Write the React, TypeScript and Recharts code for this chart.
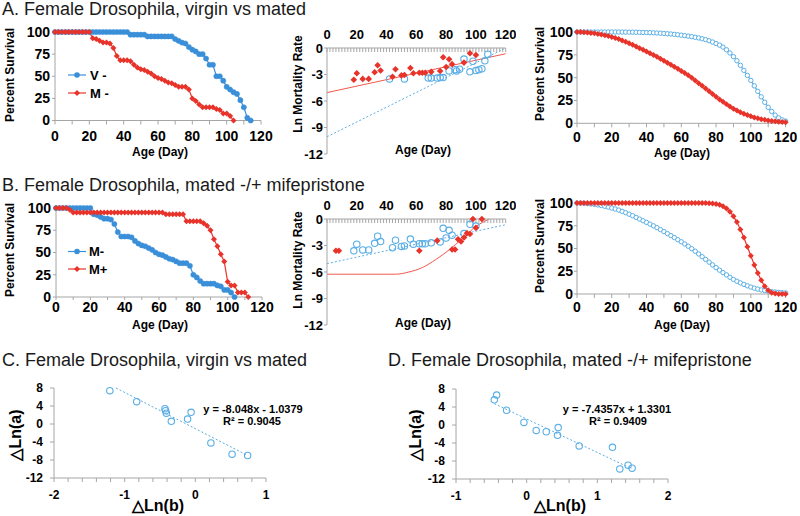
import React from 'react';
import { ComposedChart, Line, Scatter, XAxis, YAxis } from 'recharts';

const FONT = '"Liberation Sans", Arial, Helvetica, sans-serif';
const BLUE = '#3a8fd9';
const LBLUE = '#5aaee6';
const RED = '#e8332a';
const LRED = '#f0584a';
const AXIS = '#a6a6a6';

// ---------- tick lists ----------
const SURV_X_TICKS = [0, 10, 20, 30, 40, 50, 60, 70, 80, 90, 100, 110, 120];
const SURV_Y_TICKS = [0, 25, 50, 75, 100];
const MORT_Y_TICKS = [-12, -9, -6, -3, 0];
const DLN_Y_TICKS = [-12, -8, -4, 0, 4, 8];
const C_X_TICKS = [-2, -1.8, -1.6, -1.4, -1.2, -1, -0.8, -0.6, -0.4, -0.2, 0, 0.2, 0.4, 0.6, 0.8, 1];
const D_X_TICKS = [-1, -0.8, -0.6, -0.4, -0.2, 0, 0.2, 0.4, 0.6, 0.8, 1, 1.2, 1.4, 1.6, 1.8, 2];

// ---------- days (census every 2 days) ----------
const DAYS = [0, 2, 4, 6, 8, 10, 12, 14, 16, 18, 20, 22, 24, 26, 28, 30, 32, 34, 36, 38, 40, 42, 44, 46, 48, 50, 52, 54, 56, 58, 60, 62, 64, 66, 68, 70, 72, 74, 76, 78, 80, 82, 84, 86, 88, 90, 92, 94, 96, 98, 100, 102, 104, 106, 108, 110, 112, 114, 116, 118, 120];

// ---------- observed survival (%) ----------
const V_SURV = [100, 100, 100, 100, 100, 100, 100, 100, 100, 100, 100, 100, 100, 100, 100, 100, 100, 100, 100, 100, 100,
  100, 97, 97, 97, 97, 97, 95, 95, 95, 95, 95, 95, 95, 95, 92, 90, 88, 87, 83, 80, 78, 75, 75, 70, 63, 63, 50, 50, 45, 38, 35, 32, 30, 23, 15, 3, 0];
const M_SURV = [100, 100, 100, 100, 100, 100, 100, 100, 100, 100, 100,
  93, 92, 90, 88, 88, 87, 82, 73, 68, 68, 68, 67, 63, 60, 58, 57, 55, 53, 50, 48, 47, 45, 43, 42, 40, 38, 38, 38, 35, 25, 22, 18, 15, 15, 15, 15, 13, 12, 8, 8, 5, 0];
const MP_SURV = [100, 100, 100, 100, 98,
  95, 95, 95, 95, 95, 95, 95, 95, 95, 95, 95, 95, 95, 95, 95, 95, 95, 95, 95, 95, 95, 95, 95, 95, 95, 95, 95,
  93, 93, 93, 93, 93, 93, 85, 85, 85, 85, 85, 83, 80, 75, 65, 57, 48, 40, 17, 13, 13, 5, 5, 5, 0];

// ---------- fitted survival (%) ----------
const FIT_M = [100, 99.9, 99.7, 99.4, 99, 98.5, 97.9, 97.2, 96.4, 95.5, 94.5, 93.4, 92.2, 90.8, 89.3, 87.7, 86, 84.2, 82.3, 80.5,
  78.6, 76.8, 74.9, 72.9, 70.8, 68.6, 66.4, 64.2, 62, 59.7, 57.4, 55, 52.5, 49.8, 47, 44, 41, 38, 35, 32,
  29, 26.2, 23.5, 21, 18.4, 16, 14, 12.2, 10.5, 9, 7.6, 6.4, 5.4, 4.5, 3.8, 3.2, 2.6, 2.2, 1.8, 1.5, 1.2];
const FIT_V = [100, 100, 100, 100, 100, 100, 100, 100, 100, 100, 100, 100, 100, 99.9, 99.9, 99.8, 99.8, 99.7, 99.6, 99.5,
  99.4, 99.3, 99.1, 98.9, 98.7, 98.4, 98.1, 97.8, 97.4, 97, 96.5, 96, 95.5, 94.9, 94.2, 93.5, 92.6, 91.6, 90.4, 89,
  87.4, 85.6, 83.5, 80.5, 77, 73, 68.5, 63.5, 58, 52.5, 47, 41, 35, 29, 23, 17.5, 13, 9, 6, 3.8, 2.4];
const FIT_MP = [100, 100, 100, 100, 100, 100, 100, 100, 100, 100, 100, 100, 100, 100, 100, 100, 100, 100, 100, 100,
  100, 100, 100, 100, 100, 100, 100, 100, 100, 100, 100, 100, 100, 100, 100, 99.9, 99.9, 99.9, 99.8, 99.5,
  99, 98, 96.5, 94, 90.5, 85.5, 79, 71, 62, 52, 42, 32, 23, 15, 8.5, 4, 1.5, 0.5, 0.1, 0, 0];

// ---------- ln mortality ----------
const M_MORT_DAYS = [18, 20, 24, 28, 32, 34, 36, 44, 46, 50, 52, 56, 58, 62, 64, 66, 70, 76, 78, 80, 82, 84, 92, 96, 100];
const M_MORT = [-3.6, -2.85, -3.5, -3.5, -2.75, -1.95, -2.55, -3.25, -2.4, -3.1, -3.05, -2.27, -2.85, -2.8, -2.8, -2.8, -2.7, -2.6, -1.05, -2.15, -1.28, -1.83, -1.65, -0.6, -0.8];
const V_MORT_DAYS = [42, 52, 68, 70, 74, 76, 78, 82, 86, 87, 89, 92, 96, 98, 100, 102, 104, 106, 108];
const V_MORT = [-3.5, -3.5, -3.4, -3.4, -3.4, -3.35, -3.35, -2.6, -2.45, -2.6, -2.4, -1.25, -2.7, -1.5, -2.55, -2.45, -2.35, -1.45, -0.7];
const MP_MORT_DAYS = [6, 8, 62, 74, 84, 86, 88, 90, 92, 94, 96, 98, 100, 104];
const MP_MORT = [-3.6, -3.6, -3.6, -2.45, -3.45, -3.45, -2.3, -2.55, -2.1, -1.6, -1.7, 0, -1.0, 0];

// fitted ln mortality
const FITLN_M_DAYS = [0, 120];
const FITLN_M = [-5.05, -0.65];
const FITLN_V_DAYS = [0, 120];
const FITLN_V = [-10.05, 0];
const FITLN_MP_DAYS = [0, 46, 55, 64, 73, 82, 91, 100, 109];
const FITLN_MP = [-6.25, -6.25, -6.0, -5.5, -4.6, -3.5, -2.2, -0.85, 0];

// ---------- delta Ln ----------
const C_DLNB = [-1.21, -0.83, -0.43, -0.42, -0.41, -0.34, -0.11, -0.06, 0.22, 0.52, 0.74];
const C_DLNA = [7.4, 4.96, 3.4, 2.96, 2.4, 0.6, 1.1, 2.6, -4.2, -6.7, -7.0];
const C_TREND_X = [-1.123, 0.74];
const C_TREND_Y = [8, -6.99];
const D_DLNB = [-0.458, -0.425, -0.284, -0.039, 0.135, 0.277, 0.437, 0.446, 0.743, 1.214, 1.318, 1.435, 1.492];
const D_DLNA = [5.6, 6.65, 3.28, 0.58, -1.2, -1.5, -2.3, -0.58, -4.66, -4.96, -9.75, -8.93, -9.6];
const D_TREND_X = [-0.458, 1.492];
const D_TREND_Y = [4.74, -9.76];

const pts = (xs: number[], ys: number[]) => ys.map((y, i) => ({ x: xs[i], y }));

const tickFont14 = { fontSize: 14, fontWeight: 700, fill: '#000', fontFamily: FONT };
const tickFont13 = { fontSize: 13, fontWeight: 700, fill: '#000', fontFamily: FONT };
const tickFont12 = { fontSize: 12, fontWeight: 700, fill: '#000', fontFamily: FONT };
const fmt20 = (v: number) => (v % 20 === 0 ? String(v) : '');
const fmtInt = (v: number) => (Math.abs(v - Math.round(v)) < 1e-9 ? String(Math.round(v)) : '');

const dotBlue = (p: any) => <circle key={`b${p.index}`} cx={p.cx} cy={p.cy} r={2.6} fill={BLUE} stroke={BLUE} strokeWidth={0.5} />;
const dotRed = (p: any) => (
  <path key={`r${p.index}`} d={`M${p.cx},${p.cy - 3}L${p.cx + 3},${p.cy}L${p.cx},${p.cy + 3}L${p.cx - 3},${p.cy}Z`} fill={RED} />
);
const dotOpen = (p: any) => <circle key={`o${p.index}`} cx={p.cx} cy={p.cy} r={2.2} fill="#fff" stroke={LBLUE} strokeWidth={1} />;
const shapeOpen = (p: any) => <circle cx={p.cx} cy={p.cy} r={3.2} fill="none" stroke={LBLUE} strokeWidth={1.1} />;
const shapeRed = (p: any) => (
  <path d={`M${p.cx},${p.cy - 3.3}L${p.cx + 3.3},${p.cy}L${p.cx},${p.cy + 3.3}L${p.cx - 3.3},${p.cy}Z`} fill={RED} />
);

const axisProps = { axisLine: { stroke: AXIS }, tickLine: { stroke: AXIS } };

function SurvChart({ left, top, w, h, xMargin, xSize, yMargin, lines }: any) {
  return (
    <div style={{ position: 'absolute', left, top }}>
      <ComposedChart width={w} height={h} margin={{ top: 8, right: 12, bottom: 0, left: 0 }}>
        <XAxis type="number" dataKey="x" domain={[0, 120]} ticks={SURV_X_TICKS} tickFormatter={fmt20} interval={0}
          height={30} tickSize={xSize} tickMargin={xMargin} tick={tickFont14} {...axisProps} />
        <YAxis type="number" dataKey="y" domain={[0, 100]} ticks={SURV_Y_TICKS} interval={0}
          width={45} tickSize={3} tickMargin={yMargin} tick={tickFont14} {...axisProps} />
        {lines.map((l: any, i: number) => (
          <Line key={i} data={l.data} dataKey="y" stroke={l.stroke} strokeWidth={1.2} dot={l.dot} activeDot={false} isAnimationActive={false} />
        ))}
      </ComposedChart>
    </div>
  );
}

function MortChart({ left, top, tickMargin, fits, scatters }: any) {
  return (
    <div style={{ position: 'absolute', left, top }}>
      <ComposedChart width={228.7} height={148} margin={{ top: 5, right: 10, bottom: 12, left: 0 }}>
        <XAxis type="number" dataKey="x" orientation="top" domain={[0, 120]} ticks={DAYS} tickFormatter={fmt20} interval={0}
          height={25} tickSize={-4} tickMargin={tickMargin} tick={tickFont13} {...axisProps} />
        <YAxis type="number" dataKey="y" domain={[-12, 0]} ticks={MORT_Y_TICKS} interval={0}
          width={40} tickSize={3} tickMargin={1} tick={tickFont13} {...axisProps} />
        {fits.map((f: any, i: number) => (
          <Line key={`f${i}`} data={f.data} dataKey="y" type={f.type || 'linear'} stroke={f.stroke} strokeWidth={1}
            strokeDasharray={f.dash} dot={false} activeDot={false} isAnimationActive={false} />
        ))}
        {scatters.map((s: any, i: number) => (
          <Scatter key={`s${i}`} data={s.data} dataKey="y" shape={s.shape} isAnimationActive={false} />
        ))}
      </ComposedChart>
    </div>
  );
}

function DlnChart({ left, top, domain, ticks, data, trend }: any) {
  return (
    <div style={{ position: 'absolute', left, top }}>
      <ComposedChart width={262} height={123} margin={{ top: 8, right: 10, bottom: 0, left: 0 }}>
        <XAxis type="number" dataKey="x" domain={domain} ticks={ticks} tickFormatter={fmtInt} interval={0}
          height={25} tickSize={4} tickMargin={8} tick={tickFont12} {...axisProps} />
        <YAxis type="number" dataKey="y" domain={[-12, 8]} ticks={DLN_Y_TICKS} interval={0}
          width={40} tickSize={4} tickMargin={7} tick={tickFont12} {...axisProps} />
        <Line data={trend} dataKey="y" stroke={LBLUE} strokeWidth={1} strokeDasharray="2 2" dot={false} activeDot={false} isAnimationActive={false} />
        <Scatter data={data} dataKey="y" shape={shapeOpen} isAnimationActive={false} />
      </ComposedChart>
    </div>
  );
}

const T = (x: number, y: number, s: string, size = 12, extra: any = {}) => (
  <text x={x} y={y} fontFamily={FONT} fontSize={size} fontWeight={700} textAnchor="middle" dominantBaseline="central" fill="#000" {...extra}>{s}</text>
);
const VT = (x: number, y: number, s: string, size = 12) => (
  <text transform={`translate(${x},${y}) rotate(-90)`} fontFamily={FONT} fontSize={size} fontWeight={700} textAnchor="middle" dominantBaseline="central" fill="#000">{s}</text>
);
const Title = (x: number, y: number, s: string) => (
  <text x={x} y={y} fontFamily={FONT} fontSize={18} fill="#1a1a1a">{s}</text>
);

export default function App() {
  const aV = pts(DAYS, V_SURV);
  const aM = pts(DAYS, M_SURV);
  const bMP = pts(DAYS, MP_SURV);
  const fM = pts(DAYS, FIT_M);
  const fV = pts(DAYS, FIT_V);
  const fMP = pts(DAYS, FIT_MP);
  return (
    <div style={{ position: 'absolute', left: 0, top: 0, width: 800, height: 516, background: '#fff', overflow: 'hidden' }}>
      {/* A */}
      <SurvChart left={10} top={24} w={263} h={126.5} xSize={4} xMargin={7} yMargin={2}
        lines={[{ data: aV, stroke: BLUE, dot: dotBlue }, { data: aM, stroke: RED, dot: dotRed }]} />
      <MortChart left={287.3} top={18.3} tickMargin={12.5}
        fits={[{ data: pts(FITLN_M_DAYS, FITLN_M), stroke: LRED }, { data: pts(FITLN_V_DAYS, FITLN_V), stroke: LBLUE, dash: '2 2' }]}
        scatters={[{ data: pts(V_MORT_DAYS, V_MORT), shape: shapeOpen }, { data: pts(M_MORT_DAYS, M_MORT), shape: shapeRed }]} />
      <SurvChart left={531.7} top={23.7} w={265.6} h={129.3} xSize={4} xMargin={5} yMargin={1}
        lines={[{ data: fV, stroke: LBLUE, dot: dotOpen }, { data: fM, stroke: RED, dot: dotRed }]} />

      {/* B */}
      <SurvChart left={11} top={199.7} w={263} h={127} xSize={3} xMargin={2} yMargin={2}
        lines={[{ data: aM, stroke: BLUE, dot: dotBlue }, { data: bMP, stroke: RED, dot: dotRed }]} />
      <MortChart left={287.3} top={189.3} tickMargin={13}
        fits={[{ data: pts(FITLN_M_DAYS, FITLN_M), stroke: LBLUE, dash: '2 2' }, { data: pts(FITLN_MP_DAYS, FITLN_MP), stroke: LRED, type: 'monotone' }]}
        scatters={[{ data: pts(M_MORT_DAYS, M_MORT), shape: shapeOpen }, { data: pts(MP_MORT_DAYS, MP_MORT), shape: shapeRed }]} />
      <SurvChart left={531.7} top={195.3} w={265.6} h={129} xSize={4} xMargin={4} yMargin={1}
        lines={[{ data: fM, stroke: LBLUE, dot: dotOpen }, { data: fMP, stroke: RED, dot: dotRed }]} />

      {/* C, D */}
      <DlnChart left={14.3} top={380.3} domain={[-2, 1]} ticks={C_X_TICKS} data={pts(C_DLNB, C_DLNA)} trend={pts(C_TREND_X, C_TREND_Y)} />
      <DlnChart left={416} top={381.3} domain={[-1, 2]} ticks={D_X_TICKS} data={pts(D_DLNB, D_DLNA)} trend={pts(D_TREND_X, D_TREND_Y)} />

      <svg width={800} height={516} style={{ position: 'absolute', left: 0, top: 0, pointerEvents: 'none' }}>
        {Title(2, 15, 'A. Female Drosophila, virgin vs mated')}
        {Title(2, 191, 'B. Female Drosophila, mated -/+ mifepristone')}
        {Title(2, 366, 'C. Female Drosophila, virgin vs mated')}
        {Title(388, 366, 'D. Female Drosophila, mated -/+ mifepristone')}

        {VT(10, 75, 'Percent Survival')}
        {T(160, 151.5, 'Age (Day)')}
        {VT(298, 84, 'Ln Mortality Rate')}
        {T(423, 150, 'Age (Day)')}
        {VT(540, 74, 'Percent Survival')}
        {T(682, 153, 'Age (Day)')}

        {VT(10, 250, 'Percent Survival')}
        {T(160, 325, 'Age (Day)')}
        {VT(298, 260, 'Ln Mortality Rate')}
        {T(423, 323, 'Age (Day)')}
        {VT(540, 246, 'Percent Survival')}
        {T(682, 325, 'Age (Day)')}

        {VT(15, 435, '△Ln(a)', 16)}
        {T(158, 505, '△Ln(b)', 16)}
        {VT(415, 435, '△Ln(a)', 16)}
        {T(560, 505, '△Ln(b)', 16)}

        {T(253, 409, 'y = -8.048x - 1.0379', 11)}
        {T(252, 421, 'R² = 0.9045', 11)}
        {T(617, 409, 'y = -7.4357x + 1.3301', 11)}
        {T(618, 421, 'R² = 0.9409', 11)}

        {/* legends */}
        <line x1={68} y1={75} x2={86} y2={75} stroke={BLUE} strokeWidth={1.2} />
        <circle cx={77} cy={75} r={2.8} fill={BLUE} />
        {T(90, 75, 'V -', 13, { textAnchor: 'start' })}
        <line x1={68} y1={93} x2={86} y2={93} stroke={RED} strokeWidth={1.2} />
        <path d="M77,90L80,93L77,96L74,93Z" fill={RED} />
        {T(90, 93, 'M -', 13, { textAnchor: 'start' })}

        <line x1={68} y1={251.5} x2={86} y2={251.5} stroke={BLUE} strokeWidth={1.2} />
        <circle cx={77} cy={251.5} r={2.8} fill={BLUE} />
        {T(89, 251.5, 'M-', 13, { textAnchor: 'start' })}
        <line x1={68} y1={269} x2={86} y2={269} stroke={RED} strokeWidth={1.2} />
        <path d="M77,266L80,269L77,272L74,269Z" fill={RED} />
        {T(89, 269, 'M+', 13, { textAnchor: 'start' })}
      </svg>
    </div>
  );
}
